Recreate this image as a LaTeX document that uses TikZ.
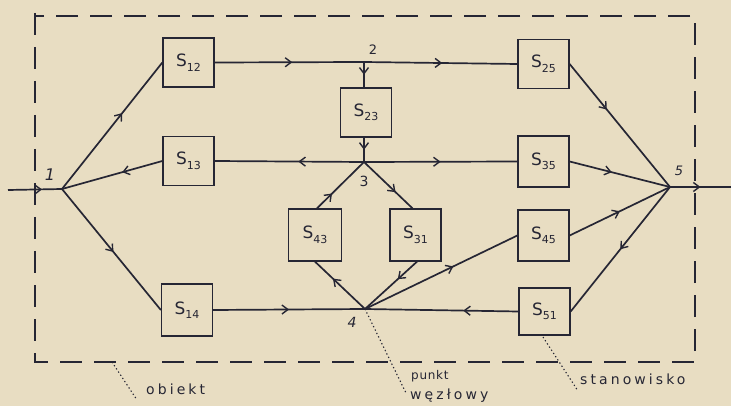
\documentclass[tikz,border=0pt]{standalone}
\usepackage{fontspec}
\setsansfont{DejaVu Sans}
\newfontfamily\handfont[LetterSpace=22]{DejaVu Sans}
\newfontfamily\handtight[LetterSpace=6]{DejaVu Sans}
\usetikzlibrary{arrows.meta,decorations.markings}
\definecolor{paper}{RGB}{232,221,194}
\definecolor{ink}{RGB}{38,38,52}
\newcommand{\stlab}[1]{S\raisebox{-4.5pt}{\fontsize{11}{12}\selectfont #1}}
\tikzset{
  stbox/.style={draw=ink, line width=1.3pt, minimum width=51pt, minimum height=49pt, inner sep=0pt,
    text=ink, font=\fontsize{17}{19}\sffamily},
  flow/.style={draw=ink, line width=1.7pt, postaction={decorate},
    decoration={markings, mark=at position #1 with {\arrow[line width=1.4pt]{Straight Barb[length=6pt,width=9pt]}}}},
  flow/.default=0.5,
  nlabel/.style={text=ink, font=\fontsize{13}{15}\sffamily},
  leader/.style={draw=ink, line width=1.1pt, dash pattern=on 1.3pt off 2.5pt},
  annot/.style={text=ink, font=\fontsize{14}{16}\handfont, anchor=west, inner sep=0pt},
  frame/.style={draw=ink, line width=1.3pt, dash pattern=on 22pt off 12pt}
}
\begin{document}
\begin{tikzpicture}[x=1pt,y=-1pt]
\fill[paper] (0,0) rectangle (731,406);
\useasboundingbox (0,0) rectangle (731,406);
\draw[frame] (35,13) -- (35,362) -- (695,362) -- (695,16) -- (35,16);

% junction points
\coordinate (in) at (8,190);
\coordinate (n1) at (62,189);
\coordinate (n2) at (364,62);
\coordinate (n3) at (364,162);
\coordinate (n4) at (365,309);
\coordinate (n5) at (670,187);
\coordinate (out) at (731,187);

% stations
\node[stbox] (S12) at (188.5,62.5) {\stlab{12}};
\node[stbox] (S13) at (188.5,161) {\stlab{13}};
\node[stbox, minimum height=52pt] (S14) at (187,310) {\stlab{14}};
\node[stbox] (S23) at (366,112.5) {\stlab{23}};
\node[stbox] (S25) at (543.5,64) {\stlab{25}};
\node[stbox, minimum height=51pt] (S35) at (543.5,161.5) {\stlab{35}};
\node[stbox, minimum width=53pt, minimum height=52pt] (S43) at (315,235) {\stlab{43}};
\node[stbox, minimum height=52pt] (S31) at (415.5,235) {\stlab{31}};
\node[stbox, minimum height=51pt] (S45) at (543.5,235.5) {\stlab{45}};
\node[stbox, minimum height=47pt] (S51) at (544.5,311.5) {\stlab{51}};

% node numbers
\node[nlabel, font=\fontsize{16}{18}\sffamily\itshape] (l1) at (50,175) {1};
\node[nlabel] (l2) at (373,50) {2};
\node[nlabel, font=\fontsize{14}{16}\sffamily] (l3) at (364,181) {3};
\node[nlabel, font=\fontsize{14}{16}\sffamily\itshape] (l4) at (352,322) {4};
\node[nlabel, font=\fontsize{13}{15}\sffamily\itshape] (l5) at (679,171) {5};

% connectors
\draw[flow=0.63] (in) -- (n1);
\draw[flow=0.6] (n1) -- (S12.west);
\draw[flow=0.4] (S13.west) -- (n1);
\draw[flow=0.52] (n1) -- (S14.west);
\draw[flow=0.52] (S12.east) -- (n2);
\draw[flow=0.51] (n2) -- (S25.west);
\draw[flow] (n2) -- (n2 |- S23.north);
\draw[flow] (n3 |- S23.south) -- (n3);
\draw[flow=0.44] (n3) -- (S13.east);
\draw[flow=0.5] (n3) -- (S35.west);
\draw[flow=0.65] (n3) -- ([xshift=-3pt]S31.north);
\draw[flow=0.32] ([xshift=2pt]S43.north) -- (n3);
\draw[flow=0.64] (n4) -- (S43.south);
\draw[flow=0.37] ([xshift=1.5pt]S31.south) -- (n4);
\draw[flow=0.5] (S14.east) -- (n4);
\draw[flow=0.36] (S51.west) -- (n4);
\draw[flow=0.58] (n4) -- (S45.west);
\draw[flow=0.37] (S25.east) -- (n5);
\draw[flow=0.42] (S35.east) -- (n5);
\draw[flow=0.5] (S45.east) -- (n5);
\draw[flow=0.5] (n5) -- (S51.east);
\draw[flow=0.5] (n5) -- (out);

% annotations
\coordinate (fo) at (112,362);
\coordinate (fs) at (543,337);
\node[annot] (tobj) at (146,389) {obiekt};
\node[annot, font=\fontsize{12}{14}\handtight] (tpunkt) at (411,376) {punkt};
\node[annot] (twez) at (410,396) {węzłowy};
\node[annot] (tstan) at (580,379) {stanowisko};
\draw[leader] (fo) -- (137,400);
\draw[leader] (n4) -- (406,393);
\draw[leader] (fs) -- (578,391);
\end{tikzpicture}
\end{document}
